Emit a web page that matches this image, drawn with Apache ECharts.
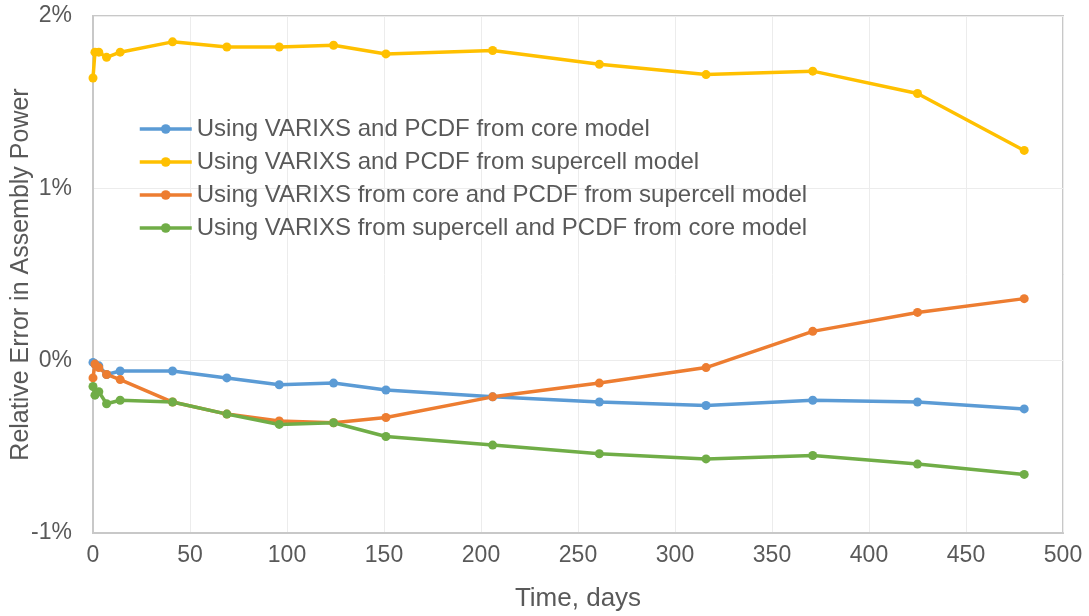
<!DOCTYPE html>
<html>
<head>
<meta charset="utf-8">
<script src="https://cdn.jsdelivr.net/npm/echarts@6/dist/echarts.min.js"></script>
<style>
  html, body { margin: 0; padding: 0; background: #ffffff; }
  #chart { width: 1089px; height: 616px; }
</style>
</head>
<body>
<div id="chart"></div>
<script>
// Burnup steps (days)
const days = [0, 1, 3, 7, 14, 41, 69, 96, 124, 151, 206, 261, 316, 371, 425, 480];

// Relative error in assembly power (%)
const coreModel = [-0.01, -0.02, -0.03, -0.08, -0.06, -0.06, -0.10, -0.14, -0.13, -0.17, -0.21, -0.24, -0.26, -0.23, -0.24, -0.28];
const supercellModel = [1.64, 1.79, 1.79, 1.76, 1.79, 1.85, 1.82, 1.82, 1.83, 1.78, 1.80, 1.72, 1.66, 1.68, 1.55, 1.22];
const varixsCorePcdfSupercell = [-0.10, -0.02, -0.04, -0.08, -0.11, -0.24, -0.31, -0.35, -0.36, -0.33, -0.21, -0.13, -0.04, 0.17, 0.28, 0.36];
const varixsSupercellPcdfCore = [-0.15, -0.20, -0.18, -0.25, -0.23, -0.24, -0.31, -0.37, -0.36, -0.44, -0.49, -0.54, -0.57, -0.55, -0.60, -0.66];

const seriesNames = [
  'Using VARIXS and PCDF from core model',
  'Using VARIXS and PCDF from supercell model',
  'Using VARIXS from core and PCDF from supercell model',
  'Using VARIXS from supercell and PCDF from core model'
];
const seriesValues = [coreModel, supercellModel, varixsCorePcdfSupercell, varixsSupercellPcdfCore];
const seriesColors = ['#5B9BD5', '#FFC000', '#ED7D31', '#70AD47'];

const FONT = 'Liberation Sans, Arial, sans-serif';
const TEXT = '#595959';

const chart = echarts.init(document.getElementById('chart'), null, { renderer: 'canvas' });

const series = seriesNames.map((name, i) => ({
  name: name,
  type: 'line',
  data: days.map((d, j) => [d, seriesValues[i][j]]),
  color: seriesColors[i],
  lineStyle: { width: 3.5, color: seriesColors[i] },
  itemStyle: { color: seriesColors[i] },
  symbol: 'circle',
  symbolSize: 9,
  showSymbol: true,
  animation: false
}));

chart.setOption({
  backgroundColor: '#ffffff',
  animation: false,
  grid: {
    left: 93, top: 16, right: 26, bottom: 83,
    outerBoundsMode: 'none',
    containLabel: false,
    show: true, borderColor: '#c8c8c8', borderWidth: 2, backgroundColor: 'transparent'
  },
  legend: {
    orient: 'vertical',
    left: 133,
    top: 112,
    itemWidth: 52,
    itemHeight: 12,
    itemGap: 9,
    lineStyle: { width: 3.5 },
    textStyle: { fontFamily: FONT, fontSize: 24, color: TEXT },
    data: seriesNames
  },
  xAxis: {
    type: 'value',
    min: 0, max: 500, interval: 50,
    name: 'Time, days',
    nameLocation: 'middle',
    nameGap: 53,
    nameMoveOverlap: false,
    nameTextStyle: { fontFamily: FONT, fontSize: 26, color: TEXT },
    axisLine: { show: true, onZero: false, lineStyle: { color: '#c8c8c8', width: 2 } },
    axisTick: { show: false },
    axisLabel: { fontFamily: FONT, fontSize: 23, color: TEXT, margin: 11 },
    splitLine: { show: true, lineStyle: { color: '#ececec', width: 1 } }
  },
  yAxis: {
    type: 'value',
    min: -1, max: 2, interval: 1,
    name: 'Relative Error in Assembly Power',
    nameLocation: 'middle',
    nameGap: 59,
    nameMoveOverlap: false,
    nameTextStyle: { fontFamily: FONT, fontSize: 25, color: TEXT },
    axisLine: { show: true, lineStyle: { color: '#c8c8c8', width: 2 } },
    axisTick: { show: false },
    axisLabel: { fontFamily: FONT, fontSize: 23, color: TEXT, margin: 21, formatter: '{value}%' },
    splitLine: { show: true, lineStyle: { color: '#ececec', width: 1 } }
  },
  series: series
});
</script>
</body>
</html>
